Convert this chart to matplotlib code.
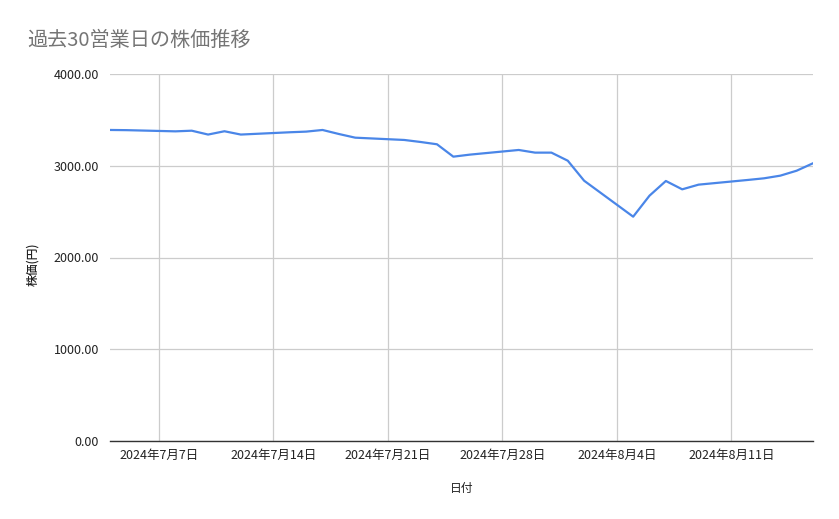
import datetime as dt

import matplotlib
matplotlib.use("Agg")
import matplotlib.pyplot as plt
import matplotlib.dates as mdates
from matplotlib.ticker import FuncFormatter

plt.rcParams['font.family'] = ['Noto Sans CJK JP', 'DejaVu Sans']

# ============================
# Data
# ============================
dates = [
    "2024-07-04", "2024-07-05", "2024-07-08", "2024-07-09", "2024-07-10",
    "2024-07-11", "2024-07-12", "2024-07-15", "2024-07-16", "2024-07-17",
    "2024-07-18", "2024-07-19", "2024-07-22", "2024-07-23", "2024-07-24",
    "2024-07-25", "2024-07-26", "2024-07-29", "2024-07-30", "2024-07-31",
    "2024-08-01", "2024-08-02", "2024-08-05", "2024-08-06", "2024-08-07",
    "2024-08-08", "2024-08-09", "2024-08-12", "2024-08-13", "2024-08-14",
    "2024-08-15", "2024-08-16",
]
prices = [
    3390, 3388, 3375, 3382, 3340,
    3376, 3340, 3365, 3372, 3390,
    3346, 3306, 3281, 3259, 3234,
    3099, 3121, 3172, 3143, 3143,
    3055, 2837, 2445, 2674, 2834,
    2743, 2794, 2845, 2863, 2892,
    2946, 3027,
]
tick_dates = ["2024-07-07", "2024-07-14", "2024-07-21", "2024-07-28", "2024-08-04", "2024-08-11"]
yticks = [0, 1000, 2000, 3000, 4000]

x = [dt.datetime.strptime(d, "%Y-%m-%d") for d in dates]
xt = [dt.datetime.strptime(d, "%Y-%m-%d") for d in tick_dates]

# =======================
# Plotting
# =======================
fig = plt.figure(figsize=(8.39, 5.19), dpi=100)
ax = fig.add_axes([110 / 839, 78 / 519, 703 / 839, 367 / 519])

ax.plot(x, prices, color='#4a86e8', linewidth=1.6, solid_joinstyle='round')

ax.set_xlim(x[0], x[-1])
ax.set_ylim(0, 4000)
ax.set_yticks(yticks)
ax.yaxis.set_major_formatter(FuncFormatter(lambda v, p: "{:.2f}".format(v)))
ax.set_xticks(xt)
ax.xaxis.set_major_formatter(FuncFormatter(
    lambda v, p: "{d.year}年{d.month}月{d.day}日".format(d=mdates.num2date(v))))

ax.grid(True, color='#cccccc', linewidth=0.9)
ax.set_axisbelow(True)
for s in ['top', 'right', 'left']:
    ax.spines[s].set_visible(False)
ax.spines['bottom'].set_color('#333333')
ax.spines['bottom'].set_linewidth(1.0)
ax.tick_params(axis='both', length=0, labelsize=9, colors='#222222')
ax.tick_params(axis='x', pad=6)
ax.tick_params(axis='y', pad=8)

ax.set_xlabel("日付", fontsize=8.5, color='#222222', labelpad=14)
ax.set_ylabel("株価(円)", fontsize=8.5, color='#222222', fontweight='medium',
              va='center')
ax.yaxis.set_label_coords((33 - 110) / 703, (441 - 264) / 367)

fig.text(27 / 839, 1 - 40 / 519, "過去30営業日の株価推移", fontsize=14.5,
         color='#757575', va='center', ha='left')

fig.savefig("out.png", dpi=100)
